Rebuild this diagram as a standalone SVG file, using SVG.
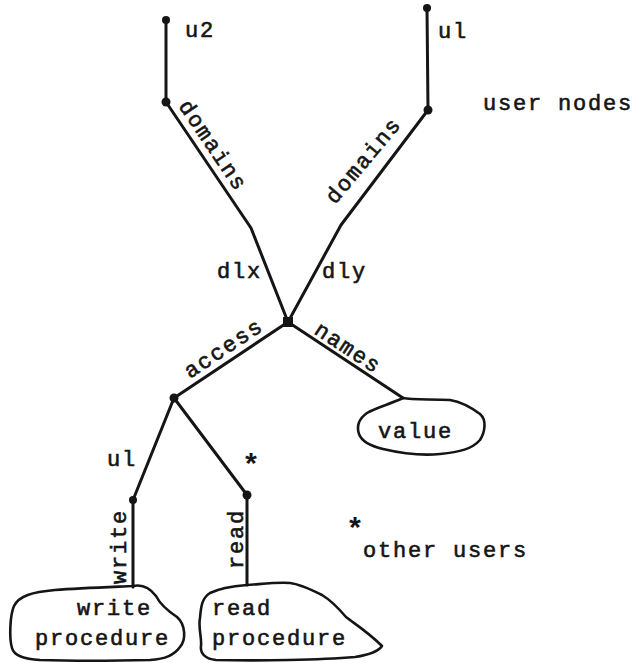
<svg xmlns="http://www.w3.org/2000/svg" width="640" height="663" viewBox="0 0 640 663">
<style>
.t{font-family:"Liberation Mono","DejaVu Sans Mono",monospace;font-size:22px;letter-spacing:1.8px;fill:#151515;stroke:#151515;stroke-width:0.6px}
.s{font-family:"Liberation Mono","DejaVu Sans Mono",monospace;font-size:30px;font-weight:bold;fill:#151515}
.e{fill:none;stroke:#151515;stroke-width:3;stroke-linecap:round;stroke-linejoin:round}
.c{fill:none;stroke:#151515;stroke-width:2.6;stroke-linejoin:round}
.d{fill:#151515}
</style>
<rect width="640" height="663" fill="#ffffff"/>
<g id="connectors">
<path class="e" d="M166,20 L166,102"/>
<path class="e" d="M427,8 L428,110"/>
<path class="e" d="M166,102 L251,228 L288,322"/>
<path class="e" d="M428,110 L341,225 L288,322"/>
<path class="e" d="M288,322 L174,398"/>
<path class="e" d="M288,322 L403,398"/>
<path class="e" d="M174,398 L133,500"/>
<path class="e" d="M174,398 L247,495"/>
<path class="e" d="M133,500 L133,587"/>
<path class="e" d="M247,495 L247,585"/>
<text class="t" transform="translate(178,106) rotate(56)">domains</text>
<text class="t" transform="translate(335,205) rotate(-50)">domains</text>
<text class="t" x="217" y="278">dlx</text>
<text class="t" x="322" y="278">dly</text>
<text class="t" transform="translate(190,379) rotate(-33.7)">access</text>
<text class="t" transform="translate(313,333) rotate(33.5)">names</text>
<text class="t" x="107" y="466">ul</text>
<text class="s" x="242" y="475">*</text>
<text class="t" transform="translate(126,584) rotate(-90)">write</text>
<text class="t" transform="translate(243,569) rotate(-90)">read</text>
</g>
<g id="u2">
<circle class="d" cx="166" cy="20" r="4"/>
<text class="t" x="185" y="37">u2</text>
</g>
<g id="u1">
<circle class="d" cx="427" cy="8" r="4"/>
<text class="t" x="438" y="38">ul</text>
</g>
<g id="domain-u2"><circle class="d" cx="166" cy="102" r="4.5"/></g>
<g id="domain-u1"><circle class="d" cx="428" cy="110" r="4.5"/></g>
<g id="user-nodes-label"><text class="t" x="483" y="110">user nodes</text></g>
<g id="center"><rect class="d" x="283" y="317" width="10" height="10"/></g>
<g id="access-node"><circle class="d" cx="174" cy="398" r="4.5"/></g>
<g id="write-node"><circle class="d" cx="133" cy="500" r="4"/></g>
<g id="read-node"><circle class="d" cx="247" cy="495" r="4.5"/></g>
<g id="value">
<path class="c" d="M403,398 C412,400 430,399 450,400 C462,402 472,408 480,414 C487,420 485,432 480,440 C472,449 460,452 440,454 C420,456 400,453 383,449 C370,446 362,442 359,434 C356,425 360,418 367,413 C375,408 390,404 403,398 Z"/>
<text class="t" x="378" y="438">value</text>
</g>
<g id="write-procedure">
<path class="c" d="M133,586 C142,584 150,588 156,596 C160,604 168,611 177,617 C186,625 186,640 180,647 C174,655 166,659 150,660 C110,661 70,661 40,660 C24,659 14,656 12,648 C9,638 10,615 14,606 C19,596 32,592 55,590 C80,588 110,587 133,586 Z"/>
<text class="t" x="77" y="615">write</text>
<text class="t" x="35" y="645">procedure</text>
</g>
<g id="read-procedure">
<path class="c" d="M247,585 C262,584 278,582 290,583 C300,584 312,590 322,595 C332,601 340,610 346,617 C355,624 368,632 382,646 C378,652 368,655 355,657 C320,660 260,661 216,660 C206,659 200,654 201,646 C202,638 198,628 200,618 C201,606 202,598 210,593 C220,588 235,586 247,585 Z"/>
<text class="t" x="212" y="615">read</text>
<text class="t" x="212" y="645">procedure</text>
</g>
<g id="other-users-note">
<text class="s" x="346" y="539">*</text>
<text class="t" x="363" y="557">other users</text>
</g>
</svg>
